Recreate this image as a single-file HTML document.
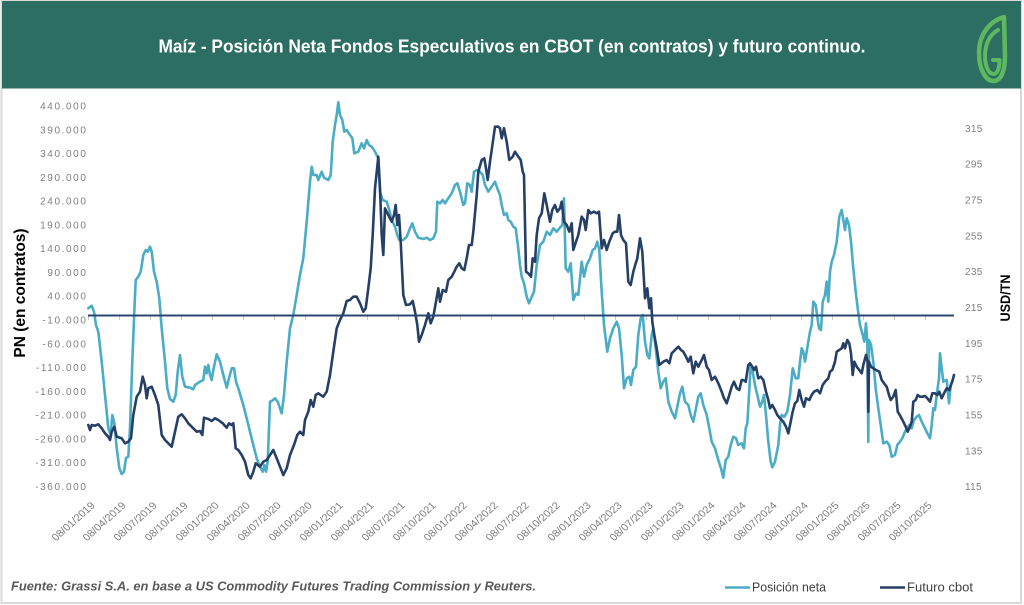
<!DOCTYPE html>
<html>
<head>
<meta charset="utf-8">
<style>
html,body{margin:0;padding:0;background:#fff;}
body{width:1024px;height:605px;overflow:hidden;}
svg{display:block;}
text{font-family:"Liberation Sans",Arial,sans-serif;}
</style>
</head>
<body>
<svg width="1024" height="605" viewBox="0 0 1024 605" xmlns="http://www.w3.org/2000/svg">
  <rect x="0" y="0" width="1024" height="605" fill="#ffffff"/>
  <!-- frame -->
  <rect x="1.5" y="1" width="1019.5" height="602" fill="#ffffff" stroke="#d9d9d9" stroke-width="2"/>
  <!-- header -->
  <rect x="2" y="1" width="1019" height="87.5" fill="#2c6e62"/>
  <text x="512" y="52.5" fill="#ffffff" font-size="18" font-weight="bold" text-anchor="middle" textLength="707" lengthAdjust="spacingAndGlyphs">Maíz - Posición Neta Fondos Especulativos en CBOT (en contratos) y futuro continuo.</text>
  <!-- logo -->
  <g fill="none" stroke="#5fb85f" stroke-linecap="round" stroke-linejoin="round">
    <path d="M1004,17 C990,21 979,34 979,53 C979,70 986,81 993.5,81 C1001,81 1005,71 1005,56 Z" stroke-width="4.5"/>
    <path d="M998,30 C989,35 985,45 985,56 C985,67 989,74 993.5,74 C998,74 999.5,67 999.5,60 L993,60" stroke-width="4"/>
  </g>

  <!-- axis titles -->
  <text transform="translate(25,293) rotate(-90)" font-size="15.5" font-weight="bold" fill="#000" text-anchor="middle">PN  (en contratos)</text>
  <text transform="translate(1010,298) rotate(-90)" font-size="14" font-weight="bold" fill="#000" text-anchor="middle" textLength="47" lengthAdjust="spacingAndGlyphs">USD/TN</text>

  <!-- left axis labels -->
  <g font-size="10" fill="#7f7f7f" text-anchor="end" letter-spacing="1.6">
    <text x="87.5" y="109.5">440.000</text>
    <text x="87.5" y="133.3">390.000</text>
    <text x="87.5" y="157">340.000</text>
    <text x="87.5" y="180.8">290.000</text>
    <text x="87.5" y="204.6">240.000</text>
    <text x="87.5" y="228.4">190.000</text>
    <text x="87.5" y="252.1">140.000</text>
    <text x="87.5" y="275.9">90.000</text>
    <text x="87.5" y="299.7">40.000</text>
    <text x="87.5" y="323.5">-10.000</text>
    <text x="87.5" y="347.3">-60.000</text>
    <text x="87.5" y="371">-110.000</text>
    <text x="87.5" y="394.8">-160.000</text>
    <text x="87.5" y="418.6">-210.000</text>
    <text x="87.5" y="442.4">-260.000</text>
    <text x="87.5" y="466.1">-310.000</text>
    <text x="87.5" y="489.9">-360.000</text>
  </g>

  <!-- right axis labels -->
  <g font-size="10" fill="#7f7f7f" letter-spacing="0.3">
    <text x="965" y="131.8">315</text>
    <text x="965" y="167.6">295</text>
    <text x="965" y="203.5">275</text>
    <text x="965" y="239.3">255</text>
    <text x="965" y="275.2">235</text>
    <text x="965" y="311">215</text>
    <text x="965" y="346.8">195</text>
    <text x="965" y="382.7">175</text>
    <text x="965" y="418.5">155</text>
    <text x="965" y="454.4">135</text>
    <text x="965" y="490.2">115</text>
  </g>

  <!-- x tick marks -->
  <g stroke="#c8c8c8" stroke-width="1">
    <path d="M88.5,315 V320 M119.5,315 V320 M150.5,315 V320 M181.5,315 V320 M212.5,315 V320 M243.5,315 V320 M274.5,315 V320 M305.5,315 V320 M336.5,315 V320 M367.5,315 V320 M398.5,315 V320 M429.5,315 V320 M460.5,315 V320 M491.5,315 V320 M522.5,315 V320 M553.5,315 V320 M584.5,315 V320 M615.5,315 V320 M646.5,315 V320 M677.5,315 V320 M708.5,315 V320 M739.5,315 V320 M770.5,315 V320 M801.5,315 V320 M832.5,315 V320 M863.5,315 V320 M894.5,315 V320 M925.5,315 V320"/>
  </g>

  <!-- x labels -->
  <g font-size="10" fill="#7f7f7f" text-anchor="end">
    <text transform="translate(95.7,506.1) scale(1.12,1) rotate(-45)">08/01/2019</text>
    <text transform="translate(126.7,506.1) scale(1.12,1) rotate(-45)">08/04/2019</text>
    <text transform="translate(157.7,506.1) scale(1.12,1) rotate(-45)">08/07/2019</text>
    <text transform="translate(188.7,506.1) scale(1.12,1) rotate(-45)">08/10/2019</text>
    <text transform="translate(219.7,506.1) scale(1.12,1) rotate(-45)">08/01/2020</text>
    <text transform="translate(250.7,506.1) scale(1.12,1) rotate(-45)">08/04/2020</text>
    <text transform="translate(281.7,506.1) scale(1.12,1) rotate(-45)">08/07/2020</text>
    <text transform="translate(312.7,506.1) scale(1.12,1) rotate(-45)">08/10/2020</text>
    <text transform="translate(343.7,506.1) scale(1.12,1) rotate(-45)">08/01/2021</text>
    <text transform="translate(374.7,506.1) scale(1.12,1) rotate(-45)">08/04/2021</text>
    <text transform="translate(405.7,506.1) scale(1.12,1) rotate(-45)">08/07/2021</text>
    <text transform="translate(436.7,506.1) scale(1.12,1) rotate(-45)">08/10/2021</text>
    <text transform="translate(467.7,506.1) scale(1.12,1) rotate(-45)">08/01/2022</text>
    <text transform="translate(498.7,506.1) scale(1.12,1) rotate(-45)">08/04/2022</text>
    <text transform="translate(529.7,506.1) scale(1.12,1) rotate(-45)">08/07/2022</text>
    <text transform="translate(560.7,506.1) scale(1.12,1) rotate(-45)">08/10/2022</text>
    <text transform="translate(591.7,506.1) scale(1.12,1) rotate(-45)">08/01/2023</text>
    <text transform="translate(622.7,506.1) scale(1.12,1) rotate(-45)">08/04/2023</text>
    <text transform="translate(653.7,506.1) scale(1.12,1) rotate(-45)">08/07/2023</text>
    <text transform="translate(684.7,506.1) scale(1.12,1) rotate(-45)">08/10/2023</text>
    <text transform="translate(715.7,506.1) scale(1.12,1) rotate(-45)">08/01/2024</text>
    <text transform="translate(746.7,506.1) scale(1.12,1) rotate(-45)">08/04/2024</text>
    <text transform="translate(777.7,506.1) scale(1.12,1) rotate(-45)">08/07/2024</text>
    <text transform="translate(808.7,506.1) scale(1.12,1) rotate(-45)">08/10/2024</text>
    <text transform="translate(839.7,506.1) scale(1.12,1) rotate(-45)">08/01/2025</text>
    <text transform="translate(870.7,506.1) scale(1.12,1) rotate(-45)">08/04/2025</text>
    <text transform="translate(901.7,506.1) scale(1.12,1) rotate(-45)">08/07/2025</text>
    <text transform="translate(932.7,506.1) scale(1.12,1) rotate(-45)">08/10/2025</text>
  </g>

  <!-- Posición neta (light) -->
  <polyline fill="none" stroke="#4bacc6" stroke-width="2.6" stroke-linejoin="round" stroke-linecap="round" points="88.3,308.3 91.7,305.7 94,311.7 96,325 98.3,331.7 101.7,361.7 105,395 108.3,428 110.7,435 112.3,415 114.3,423 116.7,448 119.3,468 121.7,474 124,471.7 126,458 128.3,456.7 130,428 132.3,361.7 134.3,311.7 135.7,280 138.3,276.7 140.7,271.7 143.3,255 145.7,250 147.7,251.7 150,246.7 151.7,251.7 154,271.7 156.7,281.7 159.3,298.3 161.7,328.3 165,361.7 167.3,388.3 170,399 173.3,401.7 175.7,395 177.7,371.7 180,355 182.3,376.7 185,386.7 190,387.7 193.3,389.3 195,385 200,381.7 203.3,380 205,366.7 206.7,373.3 208.3,365 210,375 211.7,380 213.3,370 216.7,354.3 220,361.7 223.3,375 226.7,387.7 229,378.3 231.7,368.3 234,368.3 236,381.7 238.3,388.3 243.3,405 246.7,418.3 250,431.7 253.3,445 256.7,458.3 260,466.7 262.7,471.7 264.3,465 266,471.7 267.7,461.7 270,401.7 271.7,401 275,398.3 277.7,401.7 280,408.3 281.7,413.3 284,395 286.7,361.7 290,328.3 293.3,315 296.7,295 300,275 303.3,258 306.7,221.7 310,181.7 311.7,166.7 313.3,175 316.7,175 318.3,180 321.7,171.7 324,177.7 328.3,180 330.7,175 332.7,141.7 335,125 336.7,115 338.3,102.3 340,115 342.3,120 344.3,131.7 346.7,130 350,135 352.3,138.3 354.3,153.3 358.3,151.7 361.7,143.3 364,148.3 366.7,140 369,145 371.7,146.7 375,151.7 378.3,158.3 380,191.7 382.7,200 386.7,201.7 389.3,210 391.7,220 395,226.7 397.3,235 399.3,240 403.3,240 406.7,236.7 410,228.3 412.3,223.3 415,231.7 418.3,237.7 423.3,239 426.7,237.7 430,240 433.3,238.3 436,231.7 437.3,201.7 440,203.3 442.7,200 445,203.3 448.3,198.3 451.7,193.3 455,185 457.3,183.3 460,191.7 463.3,205 465,203.3 467.3,183.3 470,185 471.7,191.7 474,171.7 476.7,170 480,171.7 482.7,175 485,185 488.3,191.7 491.7,186.7 495,181.7 497.3,188.3 500,195 501.7,205 504,215 506.7,213.3 508.3,220 510.7,221.7 513.3,226.7 515.7,228.3 518.3,248.3 520,265 521.7,276.7 524,283.3 526.7,296.7 529,303.3 531.7,296.7 534,291.7 536.7,265 540,245 543.3,241.7 546.7,231.7 550,235 553.3,228.3 556.7,231.7 560.7,226.7 562.3,225 564,198.3 565.7,268.3 568.3,271.7 570.7,263.3 573.3,300 576,293.3 578.3,295 581.7,261.7 584,276.7 586.7,265 590,258.3 592.7,250 595,248.3 597.3,241.7 599.3,250 601.7,291.7 604,325 607.3,351.7 610,338.3 613.3,328.3 616.7,321.7 619,328.3 621.7,355 624,388.3 626.7,378.3 629.3,376.7 631,385 633.3,370 636,366.7 638.3,335 640.7,318.3 642.7,315 645,341.7 647.3,355 649.3,358.3 651.7,335 653.3,328.3 655.7,348.3 658.3,371.7 660.7,388.3 663.3,381.7 665.7,378.3 668.3,401.7 671.7,411.7 675,418.3 677.3,406.7 680,393.3 682.3,386.7 685,401.7 688.3,405 690.7,415 693.3,421.7 696,408.3 698.3,396.7 700.7,393.3 703.3,405 706.7,415 709.3,428.3 711.7,441.7 715,448.3 718.3,460 721,468.3 723.3,477.7 725.7,460 728.3,456.7 730.7,445 733.3,436.7 736,438.3 738.3,445 741.7,443.3 744,448.3 745.7,428.3 747.3,423.3 749,395 750.7,365 752.7,371.7 755,385 757.3,395 760,406.7 762.3,401.7 764,395 766,415 768.3,441.7 770.7,461.7 772.3,467.3 775,461.7 778.3,445 780,425 781.7,415 784.3,416.7 787.3,411.7 790,395 792.7,368.3 795.7,378.3 798.3,378.3 800,361.7 801.7,348.3 803.3,351.7 805,361.7 806.7,351.7 808.3,341.7 810,331.7 811.7,325 813.3,301.7 815.7,305 817.3,316.7 819,328.3 821,330 822.7,301.7 825,295 826.7,281.7 828.3,301.7 830,271.7 831.7,261.7 834,255 836.7,241.7 839.3,216.7 841.7,210 843.3,220 845,230 846.7,218.3 849,225 851,241.7 853.3,268.3 855.7,291.7 857.7,308.3 860,325 862.7,335 864.3,341.7 866,323.3 867.3,341.7 868.3,441.7 869,340 871,345 873.3,361.7 875.7,388.3 878.3,408.3 880.7,425 883.3,443.3 886.7,441.7 889.3,445 891.7,456.7 895,455 897.3,445 900,441.7 902.3,438.3 904.3,433.3 906.7,428.3 909.3,425 911.7,428.3 914,420 916.7,416.7 919,415 921.7,421.7 925,428.3 927.3,433.3 930,438.3 931.7,425 933.3,408.3 935,410 936.7,395 939,378.3 940,353.3 941.7,368.3 943.3,381.7 946.7,380 949,403.3 950.7,385 952.7,380"/>

  <!-- Futuro cbot (dark) -->
  <polyline fill="none" stroke="#263f66" stroke-width="2.6" stroke-linejoin="round" stroke-linecap="round" points="88.3,425 90,430 91.7,425 95,425.7 98.3,424.3 101.7,428.3 105,433.3 108.3,436.7 110,440 111.7,431.7 114.3,426.7 116.7,436.7 121.7,438.3 125,443.3 128.3,441.7 131,438.3 133.3,415 136.7,396.7 140,391.7 142.7,376.7 145,385 146.7,398.3 148.3,388.3 151.7,386.7 155,395 158.3,405 161.7,435 165,440 168.3,443.3 171.7,446.7 175,431.7 178.3,416.7 181.7,414.3 185,418.3 188.3,423.3 193.3,428.3 196.7,431.7 200,431 202.3,435 204,417.7 208.3,419 211.7,421 215,418.3 218.3,420 222.7,423.3 226.7,427.7 229,423.3 231.7,425 233.3,423.3 235.7,448.3 238.3,450 241.7,455 245,461.7 248.3,475 250.7,478.3 253.3,471.7 255.7,463.3 260,466.7 263.3,461.7 266.7,460 270,455 273.3,450 276.7,458.3 280,466.7 283.3,475 286.7,468.3 290,455 294,445 297.3,435 300,431.7 303.3,435 305,420 308.3,411.7 310.7,400 313.3,406.7 315.7,395 318.3,393.3 320.7,395 323.3,396.7 326.7,391.7 330,375 333.3,351.7 336.7,328.3 340,320 343.3,313.3 346.7,301 350,300 353.3,296.7 356.7,296.7 360,303.3 363.3,311.7 365.7,308.3 368.3,288.3 370.7,268.3 372.7,235 375,188.3 378.3,156.7 380,188.3 381.7,235 383.3,255 385,208.3 388.3,215 391.7,221.7 394,215 395.7,205 397.3,225 399,215 400.7,241.7 403.3,295 406,305 410,304.3 412.7,301 415,311.7 417.3,325 419,341.7 421.7,335 425,325 428.3,313.3 430.7,323.3 433.3,316.7 436,301.7 438.3,288.3 440,301.7 442.7,290 446,291.7 448.3,280 451.7,276.7 454.3,271.7 456.7,266.7 459.3,263.3 461.7,268.3 464.3,270 466.7,258.3 469,245 471.7,245 473.3,231.7 476.7,195 478.3,171.7 481.7,160 484.3,158.3 486,168.3 487.7,180 490,161.7 491.7,150 495,126.7 498.3,126.7 500,128.3 501.7,138.3 504,128.3 506.7,141.7 509.3,160 512.7,156.7 515,151.7 518.3,156.7 520.7,160 522.7,171.7 524,175 526,271.7 528.3,273.3 531,276.7 532.7,258.3 535,261.7 536.7,235 539,218.3 541.7,213.3 544.3,193.3 546.7,205 550,221.7 552.3,210 555,205 557.3,211.7 560,208.3 561.7,201.7 564,221.7 566.7,225 569.3,231.7 571.7,223.3 573.3,250 576,241.7 578.3,235 581.7,216.7 584,220 585.7,230 588.3,210 590.7,213.3 594,211.7 596.7,213.3 599,211.7 601.7,248.3 604,240 606.7,250 609.3,241.7 612.7,233.3 615,231.7 617.3,231.7 619,215 621,235 623.3,240 626,243.3 628.3,281.7 630.7,285 633.3,271.7 635.7,263.3 637.3,258.3 640,238.3 642.3,251.7 645,298.3 647.3,288.3 649.3,308.3 651,298.3 652.3,321.7 654.3,335 656.7,348.3 659.3,365 663.3,361.7 666.7,360 669.3,363.3 671.7,353.3 675,350 678.3,346.7 681,350 683.3,351.7 686,356.7 688.3,361.7 690.7,356.7 693.3,373.3 695.7,361.7 698.3,366.7 701.7,360 704,355 706.7,366.7 709,370 711.7,380 715,376.7 718.3,383.3 721.7,391.7 724,398.3 726.7,403.3 729.3,395 731.7,386.7 734,381.7 736.7,388.3 739.3,390 741.7,380 743.3,380 745.7,381.7 748.3,365 750,363.3 752.3,366.7 754,370 756,366.7 758.3,378.3 760.7,376.7 763.3,380 766,391.7 768.3,400 770,408.3 772.3,405 775,410 777.3,415 780,418.3 783.3,421.7 786,426.7 788.3,433.3 790.7,421.7 792.7,411.7 795,403.3 797.3,401 799.3,390 801.7,400 804,406.7 806,398.3 809.3,400 811.7,395 814,391.7 817.3,390 820,393.3 822.7,385 825,381.7 828.3,378.3 830,371.7 832.3,370 835,361.7 836.7,351.7 839.3,350 841.7,348.3 843.3,343.3 845,348.3 847.3,340 849.3,343.3 851,353.3 852.7,375 854.3,361.7 856.7,366.7 859.3,370 861.7,373.3 863.3,365 866,355 867.7,361.7 868.3,411.7 869,361.7 871,366.7 873.3,368.3 876,370 879.3,371.7 881.7,380 884,383.3 886.7,386.7 889,395 890.7,400 893.3,396.7 895.7,390 897.7,411.7 900.7,416.7 903.3,421.7 905.7,426.7 907.7,431.7 910,426.7 911.7,421.7 913.3,401.7 915.7,400 917.7,395 920,396.7 922.7,396.7 925,396 927.3,398.3 930,401.7 932.3,393.3 935,393.3 937.3,395 939.3,391.7 941.7,398.3 944,393.3 946.7,388.3 949.3,390 951,385 952.7,380 954,375"/>

  <!-- zero / axis line -->
  <line x1="88" y1="315.5" x2="954" y2="315.5" stroke="#2b4770" stroke-width="2"/>

  <!-- footer -->
  <text x="11" y="590.5" font-size="12.5" font-weight="bold" font-style="italic" fill="#595959" textLength="525" lengthAdjust="spacingAndGlyphs">Fuente: Grassi S.A. en base a US Commodity  Futures Trading Commission y Reuters.</text>

  <!-- legend -->
  <line x1="725" y1="587.5" x2="750" y2="587.5" stroke="#4bacc6" stroke-width="2.6"/>
  <text x="752" y="591.5" font-size="12.5" fill="#404040" textLength="74" lengthAdjust="spacingAndGlyphs">Posición neta</text>
  <line x1="880" y1="587.5" x2="905" y2="587.5" stroke="#263f66" stroke-width="2.6"/>
  <text x="907" y="591.5" font-size="13" fill="#404040" textLength="66" lengthAdjust="spacingAndGlyphs">Futuro cbot</text>
</svg>
</body>
</html>
